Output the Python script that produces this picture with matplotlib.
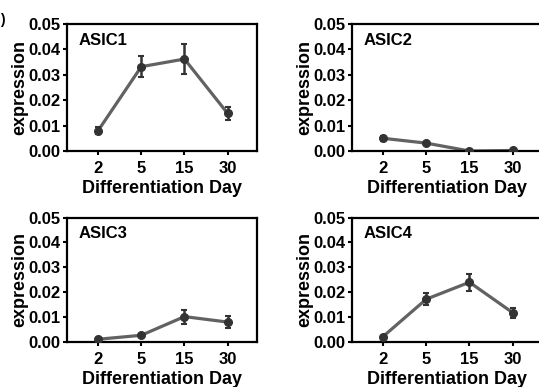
import matplotlib
matplotlib.use("Agg")
import matplotlib.pyplot as plt
import numpy as np

plt.rcParams['font.family'] = ['Liberation Sans', 'DejaVu Sans']
plt.rcParams['font.weight'] = 'bold'

days = ["2", "5", "15", "30"]
genes = ["ASIC1", "ASIC2", "ASIC3", "ASIC4"]
asic1_mean = [0.0080, 0.0332, 0.0362, 0.0148]
asic1_err = [0.0015, 0.0042, 0.0060, 0.0024]
asic2_mean = [0.0050, 0.0031, 0.0000, 0.0002]
asic2_err = [0.0010, 0.0005, 0.0002, 0.0002]
asic3_mean = [0.0011, 0.0027, 0.0102, 0.0080]
asic3_err = [0.0004, 0.0004, 0.0028, 0.0023]
asic4_mean = [0.0022, 0.0172, 0.0240, 0.0118]
asic4_err = [0.0004, 0.0025, 0.0034, 0.0020]
yticks = [0.00, 0.01, 0.02, 0.03, 0.04, 0.05]

means = [asic1_mean, asic2_mean, asic3_mean, asic4_mean]
errs = [asic1_err, asic2_err, asic3_err, asic4_err]

W, H = 539, 387
fig = plt.figure(figsize=(W/100, H/100), dpi=100)

# (left, top, right, bottom) in pixels
boxes = [(67, 24, 257, 151), (352, 24, 542, 151),
         (67, 217.5, 257, 342), (352, 217.5, 542, 342)]

x = np.arange(len(days))
for i, (l, t, r, b) in enumerate(boxes):
    ax = fig.add_axes([l/W, 1-b/H, (r-l)/W, (b-t)/H])
    ax.plot(x, means[i], color='#626262', lw=2.3, zorder=2)
    ax.errorbar(x, means[i], yerr=errs[i], fmt='o', color='#333333',
                ms=5.5, elinewidth=1.8, capsize=2, capthick=1.5, zorder=3)
    ax.set_xlim(-0.72, 3.68)
    ax.set_ylim(0, 0.05)
    ax.set_yticks(yticks)
    ax.set_yticklabels([f"{v:.2f}" for v in yticks])
    ax.set_xticks(x)
    ax.set_xticklabels(days)
    for s in ax.spines.values():
        s.set_linewidth(1.6)
    ax.tick_params(axis='both', direction='out', length=3, width=1.5,
                   labelsize=12)
    ax.tick_params(axis='y', pad=1.5)
    ax.tick_params(axis='x', pad=4.5)
    ax.set_ylabel("expression", fontsize=13, fontweight='bold', labelpad=0)
    ax.set_xlabel("Differentiation Day", fontsize=13, fontweight='bold', labelpad=2.5)
    ax.text(0.06, 0.93, genes[i], transform=ax.transAxes, fontsize=12,
            fontweight='bold', va='top', ha='left')
    for lab in ax.get_xticklabels() + ax.get_yticklabels():
        lab.set_fontweight('bold')

fig.text(0.0, 1 - 20/H, ")", fontsize=10, fontweight='bold', va='center', ha='left')
fig.savefig("out.png", dpi=100)
